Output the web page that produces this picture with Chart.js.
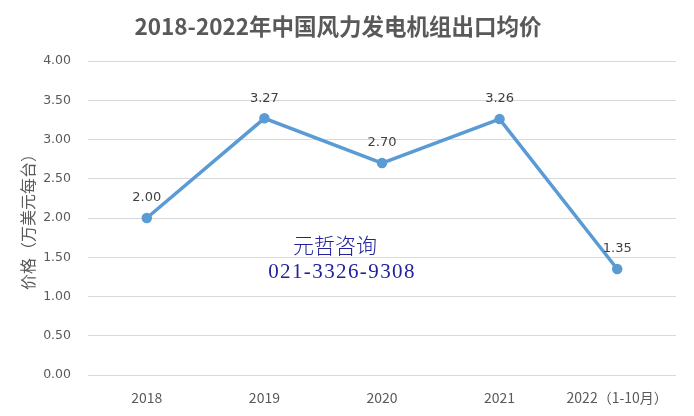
<!DOCTYPE html>
<html>
<head>
<meta charset="utf-8">
<script src="https://cdn.jsdelivr.net/npm/chart.js@4/dist/chart.umd.min.js"></script>
<style>
  html, body { margin: 0; padding: 0; background: #fff; }
  #wrap { width: 694px; height: 416px; }
</style>
</head>
<body>
<div id="wrap"><canvas id="myChart" width="694" height="416"></canvas></div>
<script>
const years = ['2018', '2019', '2020', '2021', '2022（1-10月）'];
const prices = [2.00, 3.27, 2.70, 3.26, 1.35];
const yTicks = [0, 0.5, 1, 1.5, 2, 2.5, 3, 3.5, 4];

const gray = '#595959';
const cjk = '"Noto Sans CJK SC", "Noto Sans", sans-serif';
const num = '"DejaVu Sans", sans-serif';

// labels above each point
const pointLabels = {
    id: 'pointLabels',
    afterDatasetsDraw(chart) {
        const ctx = chart.ctx;
        const meta = chart.getDatasetMeta(0);
        ctx.save();
        ctx.font = '13px ' + num;
        ctx.fillStyle = '#404040';
        ctx.textAlign = 'center';
        ctx.textBaseline = 'middle';
        meta.data.forEach((pt, i) => {
            ctx.fillText(prices[i].toFixed(2), pt.x, pt.y - 20);
        });
        ctx.restore();
    }
};

// watermark text
const stamp = {
    id: 'stamp',
    afterDraw(chart) {
        const ctx = chart.ctx;
        ctx.save();
        ctx.fillStyle = '#22229c';
        ctx.textAlign = 'center';
        ctx.textBaseline = 'middle';
        ctx.font = '300 21px "Noto Sans CJK SC", serif';
        ctx.fillText('元哲咨询', 335, 245);
        ctx.font = '21px "Liberation Serif", serif';
        ctx.letterSpacing = '1.4px';
        ctx.fillText('021-3326-9308', 342, 272);
        ctx.restore();
    }
};

const ctx = document.getElementById('myChart').getContext('2d');
const chart = new Chart(ctx, {
    type: 'line',
    data: {
        labels: years,
        datasets: [{
            data: prices,
            borderColor: '#5b9bd5',
            backgroundColor: '#5b9bd5',
            borderWidth: 3.5,
            pointRadius: 3.5,
            pointHoverRadius: 3.5,
            tension: 0
        }]
    },
    options: {
        responsive: false,
        animation: false,
        layout: { padding: { left: 0, right: 18, top: 0, bottom: 0 } },
        plugins: {
            legend: { display: false },
            tooltip: { enabled: false },
            title: {
                display: true,
                text: '2018-2022年中国风力发电机组出口均价',
                color: gray,
                font: { family: cjk, size: 22.5, weight: 'bold', lineHeight: 1.2 },
                padding: { top: 13, bottom: 21 }
            }
        },
        scales: {
            x: {
                offset: true,
                grid: { display: false },
                border: { display: false },
                ticks: { color: gray, font: { family: cjk, size: 14 }, padding: 6, maxRotation: 0 },
                afterFit(axis) { axis.height = 41; }
            },
            y: {
                min: 0,
                max: 4,
                afterBuildTicks(axis) { axis.ticks = yTicks.map(v => ({ value: v })); },
                grid: { color: '#d9d9d9', drawTicks: false },
                border: { display: false },
                ticks: { color: gray, font: { family: num, size: 12.5 }, padding: 17,
                    callback: v => v.toFixed(2) },
                title: {
                    display: true,
                    text: '价格（万美元每台）',
                    color: gray,
                    font: { family: cjk, size: 16, lineHeight: 1.2 },
                    padding: { top: 18, bottom: 0 }
                },
                afterFit(axis) { axis.width = 88; }
            }
        }
    },
    plugins: [pointLabels, stamp]
});
</script>
</body>
</html>
